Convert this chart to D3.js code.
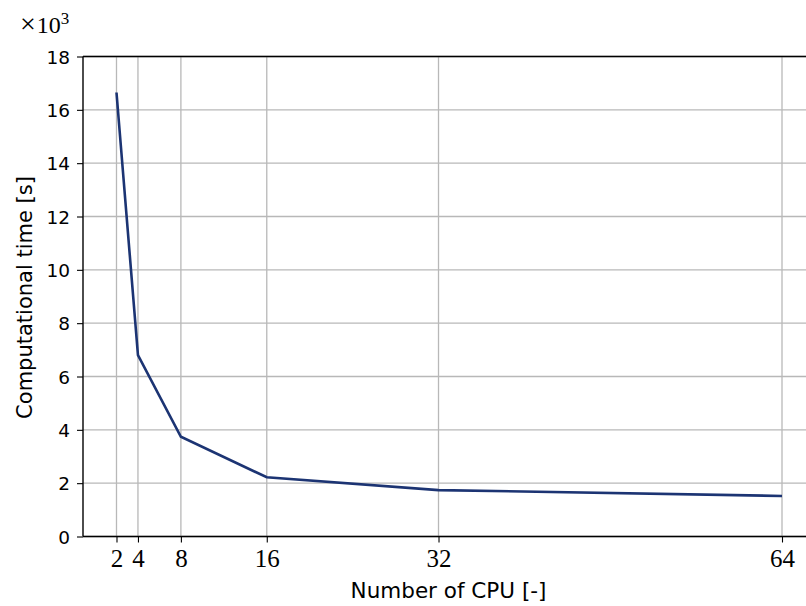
<!DOCTYPE html>
<html><head><meta charset="utf-8">
<script src="https://cdn.jsdelivr.net/npm/d3@7"></script>
<style>body{margin:0;background:#fff}svg{display:block}</style>
</head><body>
<svg id="c" width="806" height="606"></svg>
<script>
const cpus = [2, 4, 8, 16, 32, 64];
const times = [16650, 6800, 3740, 2220, 1740, 1520];
const xTicks = [2, 4, 8, 16, 32, 64];
const yTicks = [0, 2, 4, 6, 8, 10, 12, 14, 16, 18];

const svg = d3.select("#c");
const x = d3.scaleLinear().domain([-1.12, 64]).range([83, 782]);
const y = d3.scaleLinear().domain([0, 18000]).range([536.5, 56.5]);
const xEnd = 806;

const serif = "'Liberation Serif', 'DejaVu Serif', serif";
const sans = "'DejaVu Sans', sans-serif";

// grid
svg.append("g").selectAll("line").data(xTicks).join("line")
  .attr("x1", d => x(d)).attr("x2", d => x(d)).attr("y1", y(0)).attr("y2", y(18000))
  .attr("stroke", "#b8b8b8").attr("stroke-width", 1.3);
svg.append("g").selectAll("line").data(yTicks).join("line")
  .attr("x1", x(-1.12)).attr("x2", xEnd).attr("y1", d => y(d * 1000)).attr("y2", d => y(d * 1000))
  .attr("stroke", "#b8b8b8").attr("stroke-width", 1.3);

// line
svg.append("path").datum(cpus.map((c, i) => [c, times[i]]))
  .attr("d", d3.line().x(d => x(d[0])).y(d => y(d[1])))
  .attr("fill", "none").attr("stroke", "#1c3473").attr("stroke-width", 2.6);

// axes
const xAxis = svg.append("g").attr("transform", `translate(0,${y(0)})`)
  .call(d3.axisBottom(x).tickValues(xTicks).tickSize(6).tickPadding(6).tickFormat(d3.format("d")));
xAxis.select(".domain").remove();
xAxis.selectAll("text").attr("font-family", serif).attr("font-size", 25).attr("fill", "#000")
  .attr("y", 30).attr("dy", 0);
xAxis.selectAll("line").attr("stroke", "#000").attr("stroke-width", 1.1);

const yAxis = svg.append("g").attr("transform", `translate(${x(-1.12)},0)`)
  .call(d3.axisLeft(y).tickValues(yTicks.map(v => v * 1000)).tickSize(6).tickPadding(7).tickFormat(d => d / 1000));
yAxis.select(".domain").remove();
yAxis.selectAll("text").attr("font-family", sans).attr("font-size", 18.5).attr("fill", "#000")
  .attr("dy", "0.36em");
yAxis.selectAll("line").attr("stroke", "#000").attr("stroke-width", 1.1);

// spines
svg.append("line").attr("x1", x(-1.12)).attr("x2", xEnd).attr("y1", y(0)).attr("y2", y(0)).attr("stroke", "#000").attr("stroke-width", 1.4);
svg.append("line").attr("x1", x(-1.12)).attr("x2", xEnd).attr("y1", y(18000)).attr("y2", y(18000)).attr("stroke", "#000").attr("stroke-width", 1.4);
svg.append("line").attr("x1", x(-1.12)).attr("x2", x(-1.12)).attr("y1", y(0)).attr("y2", y(18000)).attr("stroke", "#000").attr("stroke-width", 1.4);

// labels
svg.append("text").attr("x", 448.5).attr("y", 598).attr("text-anchor", "middle")
  .attr("font-family", sans).attr("font-size", 21.5).text("Number of CPU [-]");
svg.append("text").attr("transform", `translate(32,${y(9000) + 1}) rotate(-90)`).attr("text-anchor", "middle")
  .attr("font-family", sans).attr("font-size", 21).text("Computational time [s]");
const mult = svg.append("text").attr("x", 20).attr("y", 32.5).attr("font-family", serif).attr("font-size", 24);
mult.append("tspan").attr("font-size", 28).text("×");
mult.append("tspan").attr("dx", 1).text("10");
mult.append("tspan").attr("dy", -9).attr("font-size", 17).text("3");
</script>
</body></html>
